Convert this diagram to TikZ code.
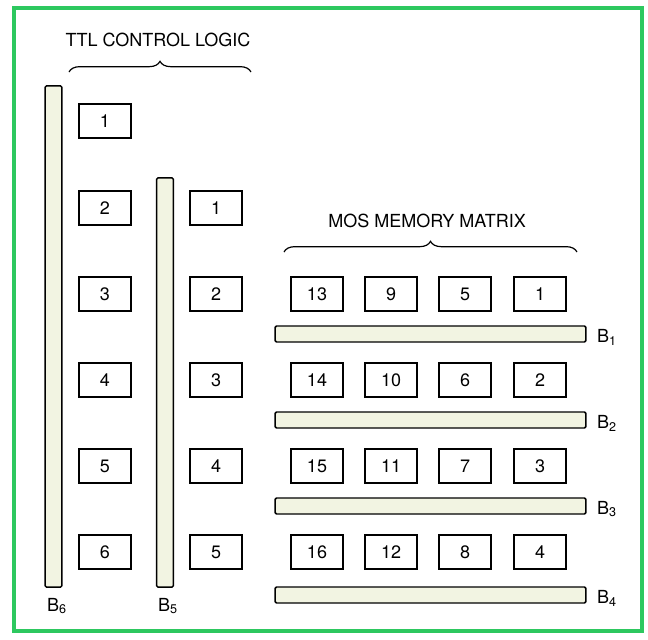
\documentclass[tikz,border=0pt]{standalone}
\usepackage{fontspec}
\setmainfont{TeX Gyre Heros}
\usetikzlibrary{decorations.pathreplacing}
\definecolor{frame}{RGB}{45,200,95}
\definecolor{busfill}{RGB}{242,244,226}

\begin{document}
\begin{tikzpicture}[
  x=0.75pt, y=-0.75pt,
  font=\fontsize{13.5}{16}\selectfont,
  chip/.style  ={draw, line width=1.5pt, minimum width=39pt,
                 minimum height=25.5pt, inner sep=0pt},
  vbus/.style  ={draw, line width=1.1pt, fill=busfill, rounded corners=1pt,
                 minimum width=12.5pt, inner sep=0pt},
  hbus/.style  ={draw, line width=1.1pt, fill=busfill, rounded corners=1pt,
                 minimum height=12pt, minimum width=233pt, inner sep=0pt},
  lbl/.style   ={inner sep=1pt},
  brc/.style   ={decorate, decoration={brace, amplitude=8pt}, line width=0.9pt},
]
\useasboundingbox (0,0) rectangle (648,639);
\draw[frame, line width=2.6pt] (14,8) rectangle (642,631);

% TTL control logic
\node[lbl] (ttl) at (158,40) {TTL CONTROL LOGIC};
\draw[brc] (69,72) -- (251,72);

\node[vbus, minimum height=376pt] (b6) at (53.5,336.5) {};
\node[lbl] (b6l) at (57,606) {B\textsubscript{6}};
\node[vbus, minimum height=307pt] (b5) at (165,382.5) {};
\node[lbl] (b5l) at (168,606) {B\textsubscript{5}};

\foreach \n/\y in {1/121,2/208,3/294,4/380,5/466,6/552}
  \node[chip] (t\n) at (105,\y) {\n};
\foreach \n/\y in {1/208,2/294,3/380,4/466,5/552}
  \node[chip] (u\n) at (216,\y) {\n};

% MOS memory matrix
\node[lbl] (mos) at (427,221) {MOS MEMORY MATRIX};
\draw[brc] (284,252) -- (577,252);

\foreach \i/\x in {0/317,1/391,2/465,3/540}
  \foreach \j/\y in {0/294,1/380,2/466,3/552}
  {
    \pgfmathtruncatemacro{\num}{13-4*\i+\j}
    \node[chip] (m\num) at (\x,\y) {\num};
  }

\foreach \k/\y in {1/334,2/420,3/506,4/595}
{
  \node[hbus] (b\k) at (430.5,\y) {};
  \node[lbl] (b\k l) at (607,\y+3) {B\textsubscript{\k}};
}
\end{tikzpicture}
\end{document}
